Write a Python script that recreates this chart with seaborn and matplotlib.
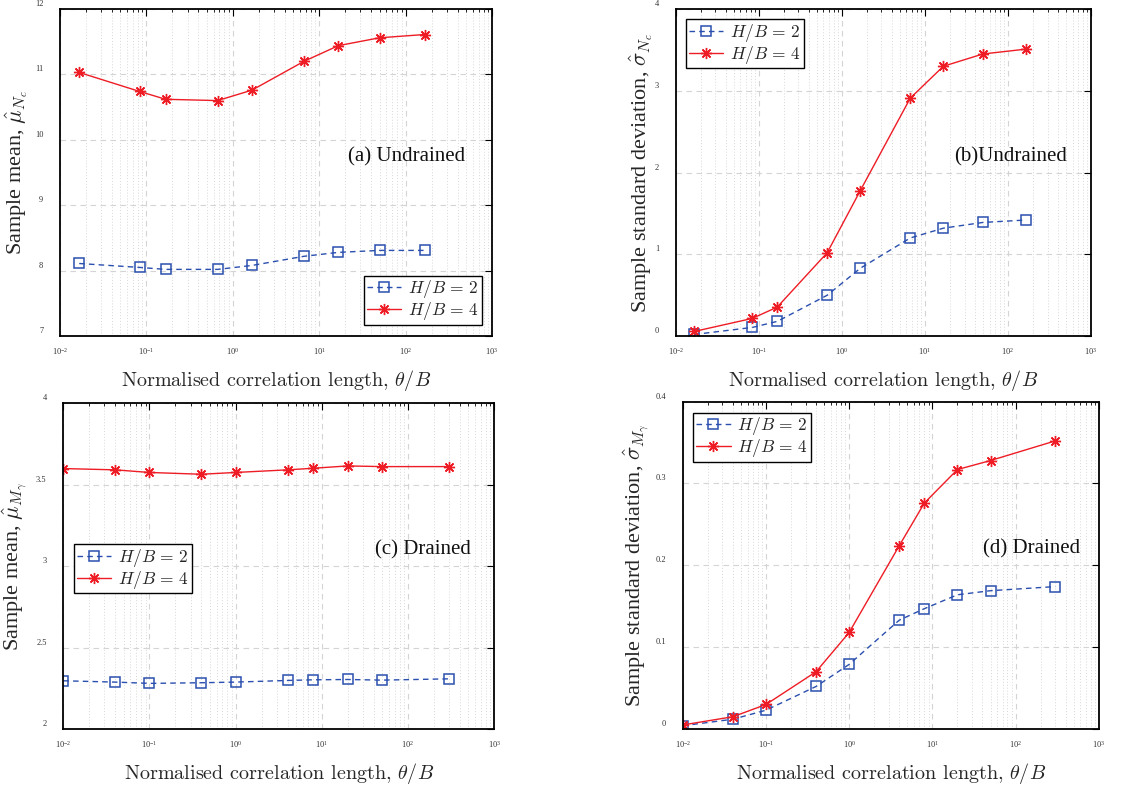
import numpy as np
import pandas as pd
import matplotlib
matplotlib.use("Agg")
import matplotlib.pyplot as plt
import matplotlib.transforms as mtransforms
from matplotlib.ticker import FuncFormatter, LogLocator, FixedLocator
import seaborn as sns

# ---------------- data ----------------
x_undrained = [0.0167, 0.0833, 0.167, 0.667, 1.67, 6.67, 16.7, 50, 167]
mean_nc_hb2 = [8.11, 8.05, 8.02, 8.02, 8.08, 8.22, 8.28, 8.31, 8.31]
mean_nc_hb4 = [11.03, 10.74, 10.62, 10.60, 10.76, 11.20, 11.44, 11.56, 11.61]
std_nc_hb2 = [0.02, 0.106, 0.18, 0.50, 0.83, 1.20, 1.32, 1.39, 1.42]
std_nc_hb4 = [0.057, 0.216, 0.355, 1.02, 1.78, 2.91, 3.30, 3.45, 3.51]

x_drained = [0.01, 0.04, 0.1, 0.4, 1, 4, 8, 20, 50, 300]
mean_mg_hb2 = [2.296, 2.288, 2.280, 2.284, 2.288, 2.298, 2.302, 2.304, 2.300, 2.308]
mean_mg_hb4 = [3.598, 3.590, 3.574, 3.563, 3.574, 3.590, 3.600, 3.614, 3.610, 3.610]
std_mg_hb2 = [0.004, 0.012, 0.023, 0.052, 0.079, 0.133, 0.147, 0.164, 0.169, 0.174]
std_mg_hb4 = [0.005, 0.015, 0.030, 0.070, 0.118, 0.224, 0.276, 0.317, 0.328, 0.352]

series_labels = [r"$H/B\,=\,2$", r"$H/B\,=\,4$"]
x_ticks = [1e-2, 1e-1, 1e0, 1e1, 1e2, 1e3]
xlabel = r"Normalised correlation length, $\theta/B$"
ylabels = [r"Sample mean, $\hat{\mu}_{N_c}$",
           r"Sample standard deviation, $\hat{\sigma}_{N_c}$",
           r"Sample mean, $\hat{\mu}_{M_\gamma}$",
           r"Sample standard deviation, $\hat{\sigma}_{M_\gamma}$"]
panel_texts = ["(a) Undrained", "(b)Undrained", "(c) Drained", "(d) Drained"]
y_ticks = [[7, 8, 9, 10, 11, 12], [0, 1, 2, 3, 4], [2, 2.5, 3, 3.5, 4],
           [0, 0.1, 0.2, 0.3, 0.4]]

# ---------------- style ----------------
sns.set_theme(style="white")
plt.rcParams["font.family"] = ["Liberation Serif", "DejaVu Serif"]
plt.rcParams["mathtext.fontset"] = "cm"
plt.rcParams["axes.unicode_minus"] = True

BLUE = "#2a4fae"
RED = "#ee1c25"

fig = plt.figure(figsize=(11.23, 7.89), dpi=100)
positions = [
    [0.0534, 0.574, 0.3847, 0.4146],
    [0.6017, 0.574, 0.3698, 0.4146],
    [0.0564, 0.076, 0.3836, 0.4132],
    [0.6080, 0.076, 0.3704, 0.4150],
]
datasets = [
    (x_undrained, mean_nc_hb2, mean_nc_hb4),
    (x_undrained, std_nc_hb2, std_nc_hb4),
    (x_drained, mean_mg_hb2, mean_mg_hb4),
    (x_drained, std_mg_hb2, std_mg_hb4),
]
text_pos = [(0.667, 0.547), (0.670, 0.547), (0.724, 0.549), (0.721, 0.55)]
legend_loc = [("lower right", (0.977, 0.034)), ("upper left", (0.025, 0.969)),
              ("upper left", (0.025, 0.567)), ("upper left", (0.025, 0.966))]
ylabel_x = [-0.07, -0.05, -0.077, -0.074]

for i in range(4):
    ax = fig.add_axes(positions[i])
    xs, y2, y4 = datasets[i]
    df2 = pd.DataFrame({"x": xs, "y": y2})
    df4 = pd.DataFrame({"x": xs, "y": y4})
    sns.lineplot(data=df2, x="x", y="y", ax=ax, color=BLUE, linewidth=1.0,
                 linestyle=(0, (4, 3)), marker="s", markersize=6.5,
                 markerfacecolor="none", markeredgecolor=BLUE,
                 markeredgewidth=1.1, label=series_labels[0])
    sns.lineplot(data=df4, x="x", y="y", ax=ax, color=RED, linewidth=1.0,
                 marker=(8, 2, 0), markersize=8, markeredgecolor=RED,
                 markeredgewidth=1.0, label=series_labels[1])
    ax.set_xscale("log")
    ax.set_xlim(1e-2, 1e3)
    ax.set_ylim(y_ticks[i][0], y_ticks[i][-1])
    ax.xaxis.set_major_locator(FixedLocator(x_ticks))
    ax.xaxis.set_minor_locator(LogLocator(base=10, subs=np.arange(2, 10), numticks=20))
    ax.yaxis.set_major_locator(FixedLocator(y_ticks[i]))
    ax.yaxis.set_major_formatter(FuncFormatter(lambda v, p: "%g" % v))
    ax.grid(which="major", axis="both", linestyle=(0, (5, 4)), color="#d4d4d4",
            linewidth=0.8)
    ax.grid(which="minor", axis="x", linestyle=(0, (1, 2)), color="#d8d8d8",
            linewidth=0.7)
    ax.set_axisbelow(True)
    ax.tick_params(which="both", direction="in", top=True, right=True,
                   colors="black", labelcolor="#333333")
    ax.tick_params(which="major", length=5, width=0.8, labelsize=6)
    ax.tick_params(which="minor", length=2.5, width=0.6)
    ax.tick_params(axis="x", which="major", pad=7)
    ax.tick_params(axis="y", which="major", pad=12)
    for lab in ax.get_yticklabels():
        lab.set_transform(lab.get_transform() +
                          mtransforms.ScaledTranslation(0, 0.06, fig.dpi_scale_trans))
    for sp in ax.spines.values():
        sp.set_color("black")
        sp.set_linewidth(1.3)
    ax.set_xlabel(xlabel, fontsize=14.5, family="cmr10", labelpad=8)
    ax.set_ylabel(ylabels[i], fontsize=16)
    ax.yaxis.set_label_coords(ylabel_x[i], 0.5)
    ax.text(text_pos[i][0], text_pos[i][1], panel_texts[i], transform=ax.transAxes,
            ha="left", va="center", fontsize=15, color="#111111")
    loc, anchor = legend_loc[i]
    leg = ax.legend(loc=loc, bbox_to_anchor=anchor, fontsize=12.5, frameon=True,
                    fancybox=False, framealpha=1, edgecolor="black",
                    handlelength=2.0, handletextpad=0.4, borderpad=0.15,
                    labelspacing=0.0, borderaxespad=0)
    leg.get_frame().set_linewidth(1.0)

fig.savefig("out.png", dpi=100)
